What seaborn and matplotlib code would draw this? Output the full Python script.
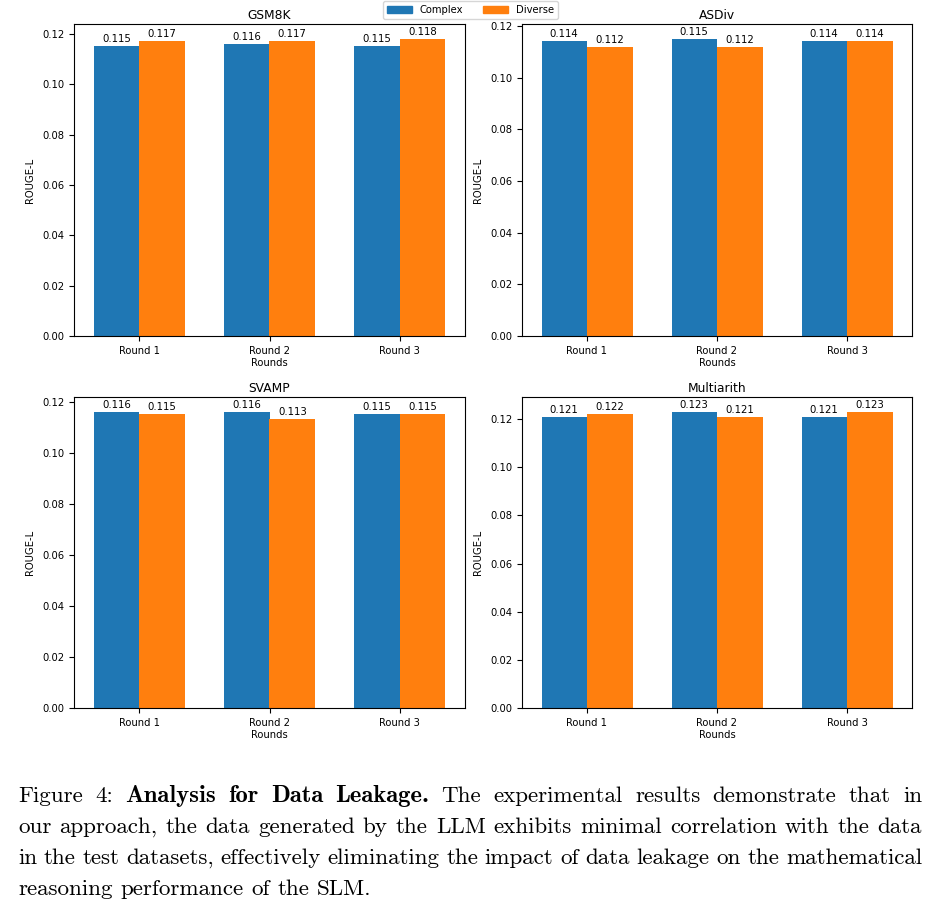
import pandas as pd
import seaborn as sns
import matplotlib.pyplot as plt

# values
rounds = ["Round 1", "Round 2", "Round 3"]
methods = ["Complex", "Diverse"]
datasets = ["GSM8K", "ASDiv", "SVAMP", "Multiarith"]

gsm8k_complex = [0.115, 0.116, 0.115]
gsm8k_diverse = [0.117, 0.117, 0.118]
asdiv_complex = [0.114, 0.115, 0.114]
asdiv_diverse = [0.112, 0.112, 0.114]
svamp_complex = [0.116, 0.116, 0.115]
svamp_diverse = [0.115, 0.113, 0.115]
multi_complex = [0.121, 0.123, 0.121]
multi_diverse = [0.122, 0.121, 0.123]

scores = {
    "GSM8K": (gsm8k_complex, gsm8k_diverse),
    "ASDiv": (asdiv_complex, asdiv_diverse),
    "SVAMP": (svamp_complex, svamp_diverse),
    "Multiarith": (multi_complex, multi_diverse),
}

caption_lines = [
    [("Figure", "cmr10"), ("4:", "cmr10"), ("Analysis", "cmb10"), ("for", "cmb10"),
     ("Data", "cmb10"), ("Leakage.", "cmb10")]
    + [(w, "cmr10") for w in "The experimental results demonstrate that in".split()],
    [(w, "cmr10") for w in "our approach, the data generated by the LLM exhibits minimal correlation with the data".split()],
    [(w, "cmr10") for w in "in the test datasets, effectively eliminating the impact of data leakage on the mathematical".split()],
    [(w, "cmr10") for w in "reasoning performance of the SLM.".split()],
]

colors = ["#1f77b4", "#ff7f0e"]

plt.rcParams["font.size"] = 7.2
plt.rcParams["axes.titlesize"] = 8.8

fig = plt.figure(figsize=(9.41, 9.01), dpi=100)
W, H = 941, 901

# axes boxes in pixels: (left, top, right, bottom)
boxes = [(74, 24, 465, 336), (522, 24, 912, 336),
         (74, 397, 465, 708), (522, 397, 912, 708)]

for name, (l, t, r, b) in zip(datasets, boxes):
    ax = fig.add_axes([l / W, 1 - b / H, (r - l) / W, (b - t) / H])
    comp, div = scores[name]
    df = pd.DataFrame({
        "Round": rounds * 2,
        "Method": ["Complex"] * 3 + ["Diverse"] * 3,
        "Score": comp + div,
    })
    sns.barplot(data=df, x="Round", y="Score", hue="Method", hue_order=methods,
                palette=colors, width=0.7, saturation=1, legend=False, ax=ax)
    for c in ax.containers:
        ax.bar_label(c, fmt="%.3f", padding=1.5, fontsize=7.3)
    ax.set_title(name, pad=3.5)
    ax.set_xlabel("Rounds", labelpad=2)
    ax.set_ylabel("ROUGE-L", labelpad=5)
    ax.set_yticks([0, 0.02, 0.04, 0.06, 0.08, 0.10, 0.12])
    ax.yaxis.set_major_formatter(plt.FormatStrFormatter("%.2f"))
    ax.set_xlim(-0.5, 2.5)
    top = max(comp + div)
    ax.set_ylim(0, top * 1.05)

handles = [plt.Rectangle((0, 0), 1, 1, color=c) for c in colors]
fig.legend(handles, methods, loc="upper center", bbox_to_anchor=(0.5, 1.0),
           ncol=2, fontsize=7.2, borderaxespad=0.1, handlelength=2.5)

# caption, justified word by word; the bold run is widened a little to stand in
# for extended bold (cmbx), which matplotlib does not ship
renderer = fig.canvas.get_renderer()
x_left, x_right = 18, 922
size = 16.6
space = size * 0.333 * 100 / 72
bold_target = 292  # px, width of the bold run in the reference
baselines = [802, 833, 864, 895]
for i, (words, y) in enumerate(zip(caption_lines, baselines)):
    texts = [fig.text(0, 1 - y / H, w, fontfamily=f, fontsize=size, va="baseline")
             for w, f in words]
    widths = [t.get_window_extent(renderer).width for t in texts]
    if i == 0:
        bold = [k for k, (w, f) in enumerate(words) if f == "cmb10"]
        run = sum(widths[k] for k in bold) + space * (len(bold) - 1)
        scale = min(max(bold_target / run, 1.0), 1.15)
        for k in bold:
            texts[k].set_fontsize(size * scale)
        widths = [t.get_window_extent(renderer).width for t in texts]
    gap = space
    if i < len(caption_lines) - 1:
        gap = (x_right - x_left - sum(widths)) / (len(texts) - 1)
    x = x_left
    for t, wd in zip(texts, widths):
        t.set_x(x / W)
        x += wd + gap

fig.savefig("out.png", dpi=100)
